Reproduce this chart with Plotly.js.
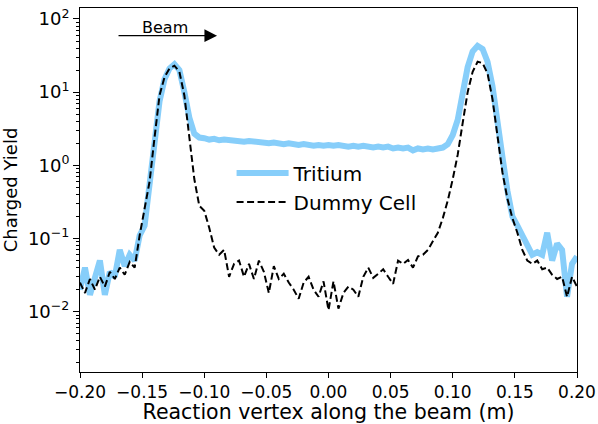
<!DOCTYPE html>
<html>
<head>
<meta charset="utf-8">
<script src="https://cdn.plot.ly/plotly-3.0.1.min.js"></script>
<style>html,body{margin:0;padding:0;background:#fff;}#chart{width:598px;height:424px;}</style>
</head>
<body>
<div id="chart"></div>
<script>
// Reaction vertex positions (m)
const vertex = [
 -0.200,-0.196,-0.192,-0.188,-0.184,-0.180,-0.176,-0.172,-0.168,-0.164,
 -0.160,-0.156,-0.152,-0.148,-0.144,-0.140,-0.136,-0.132,-0.128,-0.124,
 -0.120,-0.116,-0.112,-0.108,-0.104,-0.100,-0.096,-0.092,-0.088,-0.084,
 -0.080,-0.076,-0.072,-0.068,-0.064,-0.060,-0.056,-0.052,-0.048,-0.044,
 -0.040,-0.036,-0.032,-0.028,-0.024,-0.020,-0.016,-0.012,-0.008,-0.004,
  0.000, 0.004, 0.008, 0.012, 0.016, 0.020, 0.024, 0.028, 0.032, 0.036,
  0.040, 0.044, 0.048, 0.052, 0.056, 0.060, 0.064, 0.068, 0.072, 0.076,
  0.080, 0.084, 0.088, 0.092, 0.096, 0.100, 0.104, 0.108, 0.112, 0.116,
  0.120, 0.124, 0.128, 0.132, 0.136, 0.140, 0.144, 0.148, 0.152, 0.156,
  0.160, 0.164, 0.168, 0.172, 0.176, 0.180, 0.184, 0.188, 0.192, 0.196,
  0.200
];
// Tritium charged yield
const tritium = [
 0.020,0.040,0.017,0.030,0.050,0.017,0.035,0.030,0.070,0.042,
 0.060,0.050,0.110,0.150,0.550,2.2,7.5,15,21,24,
 20,10,4.5,2.7,2.4,2.35,2.25,2.3,2.2,2.25,
 2.2,2.15,2.2,2.1,2.15,2.1,2.05,2.1,2.0,2.05,
 2.0,1.95,2.0,1.95,1.9,1.95,1.9,1.85,1.9,1.85,
 1.9,1.85,1.9,1.85,1.8,1.85,1.8,1.85,1.8,1.75,
 1.8,1.75,1.8,1.7,1.75,1.7,1.75,1.6,1.7,1.65,
 1.7,1.65,1.7,1.75,1.95,2.6,4.2,9.5,22,36,
 43,39,26,12,4.5,1.3,0.45,0.20,0.15,0.11,
 0.075,0.060,0.065,0.060,0.120,0.050,0.085,0.070,0.016,0.045,
 0.057
];
// Dummy cell charged yield
const dummy = [
 0.025,0.018,0.028,0.020,0.030,0.022,0.035,0.028,0.040,0.032,
 0.048,0.040,0.110,0.250,0.600,2.4,9,16,21,23,
 19,9,2.6,0.65,0.28,0.24,0.14,0.075,0.060,0.070,
 0.030,0.045,0.050,0.030,0.045,0.028,0.050,0.035,0.018,0.042,
 0.028,0.033,0.025,0.020,0.015,0.025,0.030,0.020,0.016,0.026,
 0.0105,0.026,0.011,0.018,0.022,0.020,0.016,0.030,0.040,0.029,
 0.033,0.038,0.030,0.024,0.050,0.045,0.051,0.040,0.057,0.060,
 0.070,0.090,0.120,0.190,0.330,0.65,1.4,3.8,10,19,
 26,25,18,8,2.6,0.8,0.35,0.19,0.12,0.07,
 0.050,0.045,0.050,0.038,0.040,0.032,0.028,0.030,0.016,0.030,
 0.022
];
const seriesNames = ["Tritium", "Dummy Cell"];
const xTickVals = [-0.20,-0.15,-0.10,-0.05,0.00,0.05,0.10,0.15,0.20];
const xTickText = ["\u22120.20","\u22120.15","\u22120.10","\u22120.05","0.00","0.05","0.10","0.15","0.20"];
const yTickVals = [0.01, 0.1, 1, 10, 100];
const yTickText = ["10<sup>\u22122</sup>","10<sup>\u22121</sup>","10<sup>0</sup>","10<sup>1</sup>","10<sup>2</sup>"];

const minorVals = [];
for (let e = -3; e <= 2; e++) {
  for (let m = 2; m <= 9; m++) minorVals.push(m * Math.pow(10, e));
}

const font = "DejaVu Sans, sans-serif";
const traces = [
  {x: vertex, y: tritium, name: seriesNames[0], type: "scatter", mode: "lines",
   line: {color: "#87CEFA", width: 6}},
  {x: vertex, y: dummy, name: seriesNames[1], type: "scatter", mode: "lines",
   line: {color: "#000000", width: 2, dash: "7px,3.5px"}}
];
const layout = {
  width: 598, height: 424,
  margin: {l: 80, r: 21, t: 8, b: 52},
  paper_bgcolor: "#fff", plot_bgcolor: "#fff",
  font: {family: font, color: "#000", size: 17},
  showlegend: true,
  legend: {x: 0.305, y: 0.6, xanchor: "left", yanchor: "top", itemwidth: 52,
           bgcolor: "rgba(0,0,0,0)", font: {size: 20, family: font}},
  xaxis: {range: [-0.2, 0.2], tickmode: "array", tickvals: xTickVals, ticktext: xTickText,
          ticks: "outside", ticklen: 5, tickwidth: 1, tickcolor: "#000",
          showline: true, linecolor: "#000", linewidth: 1, mirror: true,
          showgrid: false, zeroline: false, tickfont: {size: 17},
          title: {text: "Reaction vertex along the beam (m)", font: {size: 20.5}, standoff: 6}},
  yaxis: {type: "log", range: [-2.824, 2.15], tickmode: "array", tickvals: yTickVals, ticktext: yTickText,
          ticks: "outside", ticklen: 6, tickwidth: 1, tickcolor: "#000",
          showline: true, linecolor: "#000", linewidth: 1, mirror: true,
          showgrid: false, zeroline: false, tickfont: {size: 18},
          minor: {tickmode: "array", tickvals: minorVals, ticks: "outside", ticklen: 3.5,
                  tickwidth: 1, tickcolor: "#000", showgrid: false},
          title: {text: "Charged Yield", font: {size: 18}, standoff: 8}},
  annotations: [
    {x: -0.0897, y: 1.772, ax: -0.1702, ay: 1.772, xref: "x", yref: "y", axref: "x", ayref: "y",
     text: "", showarrow: true, arrowhead: 2, arrowsize: 1.8, arrowwidth: 1.4, arrowcolor: "#000", standoff: 0},
    {x: -0.1316, y: 1.88, xref: "x", yref: "y", text: "Beam", showarrow: false,
     font: {size: 16, family: font, color: "#000"}}
  ]
};
Plotly.newPlot("chart", traces, layout, {displayModeBar: false, staticPlot: true});
</script>
</body>
</html>
